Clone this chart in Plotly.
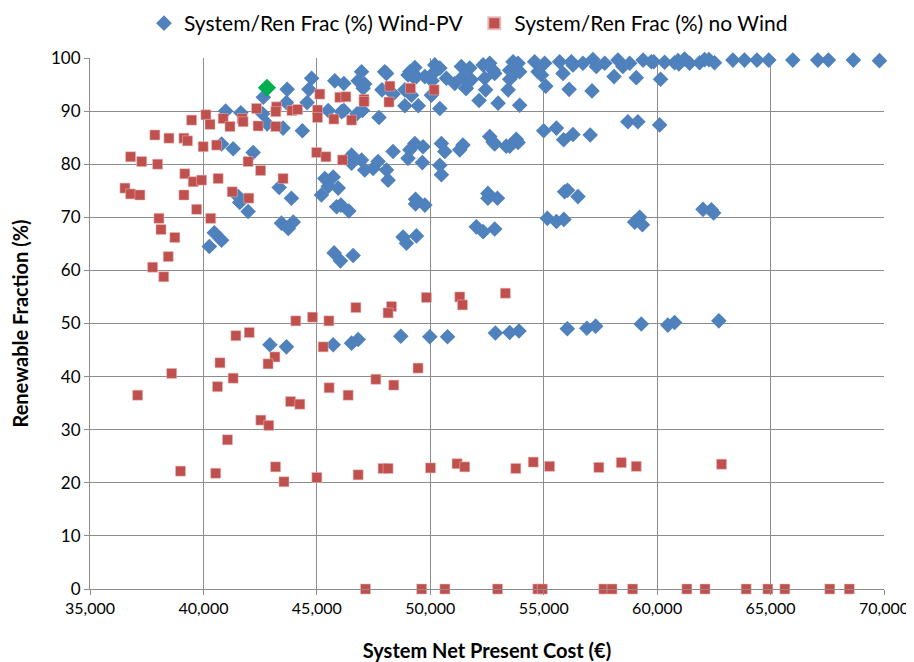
import plotly.graph_objects as go

# ---- Data: Wind-PV series (System NPC in EUR, Renewable fraction %) ----
wind_pv_cost = [
    51370, 51740, 52330, 52620, 52770, 52840, 53650, 53870, 53500, 53720, 53940, 54600, 54750, 55040, 54900,
    55700, 55850, 56220, 56290, 56730, 57170, 57320, 57690, 58270, 58490, 58790, 59380, 59740,
    59850, 60330, 60770, 60920, 60960, 61210, 61430, 61870, 62090, 62280, 62530, 63340, 63850, 64400, 64920,
    65980, 67080, 67550, 68650, 69800,
    60150, 60110,
    51440, 51810, 51560, 52400, 52440, 52150, 52990, 53430, 53500, 53940, 55090, 56120, 57130, 58100, 59080,
    51440, 51300, 52620, 52770, 52840, 53350, 53500, 53790, 53870, 55000, 55560, 55880, 56290, 57050, 58710, 59150,
    43690, 44770, 44650, 45790, 46190, 46970, 46820, 47110, 47040, 47990, 48070, 47870, 48360, 49100, 49020,
    49240, 49320, 49390, 49760, 50120, 50200, 50420, 50080, 50050, 50420, 50710, 51080, 51590, 48880, 49170,
    48880, 49470,
    43660, 44570, 45500, 46090, 46190, 46770, 47010, 47740, 43510, 44360,
    42640, 40980, 41650, 42610, 42810, 40800, 41310, 42190, 43340, 41530, 41600,
    46530, 46530, 46970, 47110, 47480, 47700, 48070, 48140, 48360, 49100, 49020, 49320, 49680, 49650, 50420,
    50490, 50490, 50640,
    45350, 45720, 45500, 45940, 45200, 43880,
    49350, 49350, 49760, 43440, 43740, 43960, 48800, 48950, 49390, 45760, 46040, 46600, 45870, 46060, 46410,
    41970, 40480, 40800, 40260,
    52540, 52540, 52960, 55920, 56050, 56510, 52030, 52330, 52840, 55160, 55560, 55890, 59230, 59010, 59350,
    62020, 62390, 62490,
    42930, 43660, 45720, 46530, 46820, 48700, 49980, 50760, 52870, 53500, 53910, 56040, 56900, 57290, 59300,
    60470, 60770, 62720,
]
wind_pv_ren = [
    98.4, 98.1, 98.7, 99.0, 97.7, 97.1, 99.3, 99.0, 97.7, 97.1, 97.4, 99.3, 97.4, 99.0, 96.8,
    99.3, 97.1, 99.3, 98.7, 99.0, 99.7, 98.4, 99.0, 99.6, 98.4, 99.0, 99.6, 99.3,
    99.3, 99.2, 99.1, 99.5, 98.9, 99.8, 99.0, 99.1, 99.7, 99.7, 99.1, 99.6, 99.6, 99.6, 99.6,
    99.6, 99.6, 99.6, 99.6, 99.5,
    96.0, 87.4,
    96.5, 95.9, 94.3, 96.2, 94.0, 92.0, 91.5, 94.0, 96.0, 91.1, 94.7, 94.1, 93.8, 96.5, 96.3,
    83.6, 82.7, 85.2, 84.2, 83.8, 83.4, 83.4, 84.7, 84.1, 86.3, 86.8, 84.6, 85.6, 85.5, 88.0, 88.0,
    94.1, 96.2, 94.1, 95.7, 95.2, 97.4, 95.7, 95.1, 94.3, 97.4, 97.1, 94.0, 93.2, 97.4, 96.8,
    96.5, 98.2, 96.5, 96.5, 97.1, 98.7, 98.1, 95.7, 93.0, 90.5, 96.2, 95.2, 94.3, 94.0, 93.0,
    91.0, 91.0,
    91.6, 91.6, 90.1, 89.9, 90.1, 89.5, 90.1, 88.8, 86.8, 86.3,
    92.6, 90.0, 89.7, 89.5, 87.6, 83.8, 82.9, 82.2, 75.6, 73.9, 72.8,
    81.7, 80.2, 80.8, 78.9, 79.2, 80.5, 78.9, 77.0, 82.4, 82.7, 81.1, 83.9, 83.3, 80.3, 79.8,
    78.0, 83.9, 82.4,
    77.3, 77.6, 75.8, 75.5, 74.2, 73.6,
    73.4, 72.5, 72.3, 68.9, 67.9, 69.1, 66.3, 65.1, 66.5, 63.3, 61.8, 62.8, 72.0, 72.3, 71.2,
    71.1, 67.1, 65.7, 64.5,
    74.5, 73.6, 73.6, 74.8, 75.1, 73.9, 68.2, 67.3, 67.8, 69.8, 69.2, 69.6, 70.0, 69.1, 68.6,
    71.5, 71.4, 70.8,
    46.0, 45.6, 46.0, 46.3, 47.0, 47.6, 47.5, 47.5, 48.2, 48.3, 48.6, 49.0, 49.1, 49.5, 49.9,
    49.7, 50.2, 50.5,
]

# ---- Data: no-Wind series ----
no_wind_cost = [
    36540, 36790, 36790, 37200, 37280, 37860, 37980, 38040, 38130, 37760, 38250, 38450, 38480, 38740, 39140,
    39180, 39140, 39300, 39480, 39550, 39700, 39920, 39990, 40110, 40290, 40320, 40580, 40650, 40870, 41170,
    41270, 41710, 41750, 41970, 42000, 42340, 42410, 42520, 43220, 43190, 43190,
    43900, 44150, 45030, 45030, 45130, 45750, 46010, 46280, 46530, 47080, 47080, 48220, 48180, 49130, 50170,
    44990, 45400, 46130, 43510,
    41430, 42020, 45280, 43150, 42850, 40730, 38600, 41310, 40620, 37100, 43840, 44250, 45540, 46380,
    42530, 42880, 41060, 38990, 40540, 43180, 43550, 45000, 46820, 47600, 48390, 49460, 47920, 48140,
    50010, 51180, 51520, 53770, 54540, 55260, 57430, 58420, 59080, 62840,
    44070, 44810, 45530, 46720, 48290, 48140, 49830, 51300, 51420, 53310,
    47145, 49620, 50645, 52965, 54740, 54940, 57650, 58010, 58920, 61310, 62110, 63925, 64880, 65630,
    67610, 68470,
]
no_wind_ren = [
    75.5, 81.4, 74.4, 74.2, 80.5, 85.5, 80.0, 69.8, 67.7, 60.6, 58.8, 62.6, 84.9, 66.2, 84.9,
    78.2, 74.2, 84.4, 88.3, 76.7, 71.5, 77.0, 83.3, 89.3, 87.5, 69.8, 83.6, 77.3, 88.6, 87.1,
    74.8, 88.6, 88.0, 80.5, 73.6, 90.5, 87.2, 78.8, 90.8, 89.9, 87.1,
    90.1, 90.3, 90.2, 88.8, 93.2, 88.5, 92.6, 92.7, 88.3, 92.2, 91.8, 94.7, 91.7, 94.3, 94.0,
    82.2, 81.4, 80.8, 77.3,
    47.7, 48.3, 45.6, 43.7, 42.4, 42.6, 40.6, 39.7, 38.1, 36.5, 35.3, 34.8, 37.9, 36.5,
    31.8, 30.8, 28.1, 22.2, 21.8, 23.0, 20.2, 21.0, 21.5, 39.5, 38.4, 41.6, 22.7, 22.7,
    22.8, 23.6, 23.0, 22.7, 23.9, 23.1, 22.9, 23.8, 23.1, 23.5,
    50.5, 51.2, 50.5, 53.0, 53.2, 52.0, 54.9, 55.0, 53.5, 55.7,
    0, 0, 0, 0, 0, 0, 0, 0, 0, 0, 0, 0, 0, 0,
    0, 0,
]

# ---- Highlighted (optimal) point ----
highlight_cost = [42800]
highlight_ren = [94.4]

x_ticks = [35000, 40000, 45000, 50000, 55000, 60000, 65000, 70000]
x_tick_labels = ["35,000", "40,000", "45,000", "50,000", "55,000", "60,000", "65,000", "70,000"]
y_ticks = [0, 10, 20, 30, 40, 50, 60, 70, 80, 90, 100]

FONT = "Lato, 'Open Sans', sans-serif"
BLUE = "#4F81BD"
RED = "#C0504D"
GREEN = "#00B050"

fig = go.Figure()
fig.add_trace(go.Scatter(
    x=wind_pv_cost, y=wind_pv_ren, mode="markers",
    name="System/Ren Frac (%) Wind-PV", legend="legend",
    marker=dict(symbol="diamond", size=12, color=BLUE, line=dict(width=0)),
    cliponaxis=False,
))
fig.add_trace(go.Scatter(
    x=no_wind_cost, y=no_wind_ren, mode="markers",
    name="System/Ren Frac (%) no Wind", legend="legend2",
    marker=dict(symbol="square", size=10, color=RED, line=dict(width=0.6, color="rgba(230,185,184,0.9)")),
    cliponaxis=False,
))
fig.add_trace(go.Scatter(
    x=highlight_cost, y=highlight_ren, mode="markers",
    showlegend=False,
    marker=dict(symbol="diamond", size=14, color=GREEN, line=dict(width=0)),
    cliponaxis=False,
))

legend_style = dict(
    orientation="h", xanchor="left", y=1.065, yanchor="middle",
    font=dict(family=FONT, size=21, color="black"),
    itemsizing="constant", bgcolor="rgba(0,0,0,0)",
)

# The page body has an 8px margin, so the figure is sized/offset to land the
# plot area at the same page position as the reference.
fig.update_layout(
    width=906, height=654,
    margin=dict(l=82, r=30, t=50, b=73, autoexpand=False),
    paper_bgcolor="white", plot_bgcolor="white",
    font=dict(family=FONT, size=16, color="black"),
    showlegend=True,
    legend=dict(x=0.068, **legend_style),
    legend2=dict(x=0.484, **legend_style),
    xaxis=dict(
        range=[35000, 70000], tickvals=x_ticks, ticktext=x_tick_labels,
        showgrid=True, gridcolor="#8C8C8C", gridwidth=1,
        showline=True, linecolor="#8C8C8C", linewidth=1,
        ticks="outside", ticklen=5, tickcolor="#8C8C8C",
        zeroline=False,
        tickfont=dict(family=FONT, size=16),
        title=dict(text="<b>System Net Present Cost (€)</b>", font=dict(family=FONT, size=20), standoff=33),
    ),
    yaxis=dict(
        range=[0, 100], tickvals=y_ticks,
        showgrid=True, gridcolor="#8C8C8C", gridwidth=1,
        showline=True, linecolor="#8C8C8C", linewidth=1,
        ticks="outside", ticklen=5, tickcolor="#8C8C8C",
        zeroline=False,
        tickfont=dict(family=FONT, size=17),
        title=dict(text="<b>Renewable Fraction (%)</b>", font=dict(family=FONT, size=20), standoff=18),
    ),
)

fig.write_html("out.html")
